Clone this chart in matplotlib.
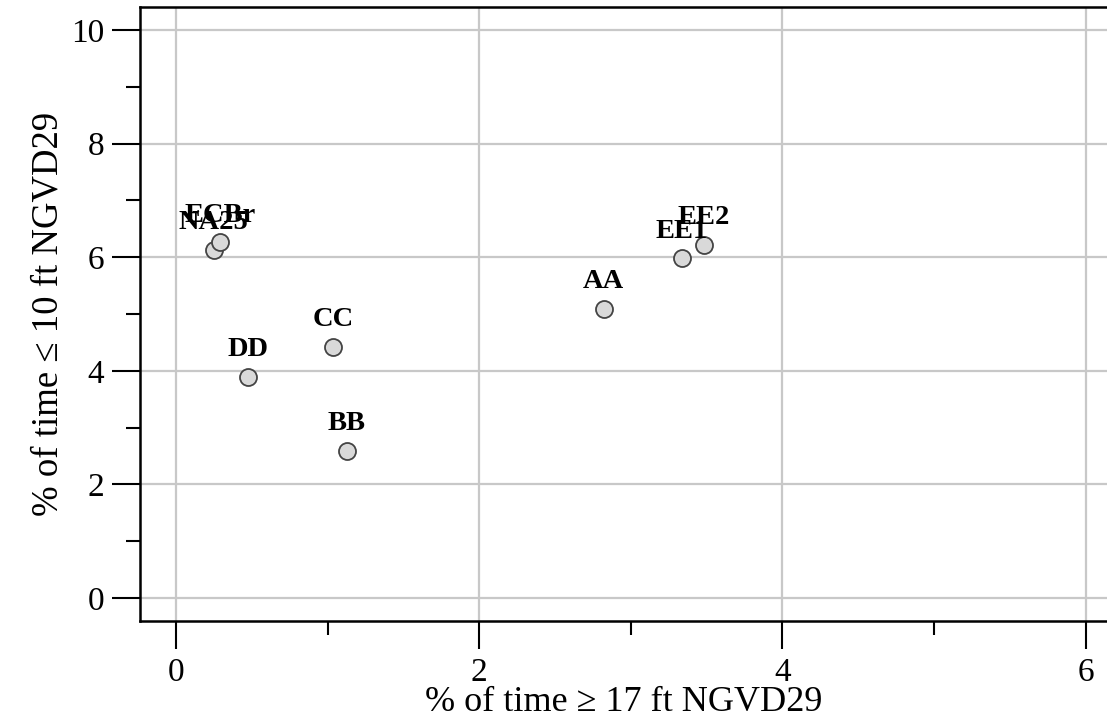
import matplotlib

matplotlib.use("Agg")
import matplotlib.pyplot as plt
from matplotlib.ticker import MultipleLocator

# site names and values
sites = ["NA25", "ECBr", "DD", "CC", "BB", "AA", "EE1", "EE2"]
pct_above_17 = [0.25, 0.29, 0.475, 1.036, 1.128, 2.82, 3.336, 3.48]
pct_below_10 = [6.13, 6.26, 3.89, 4.42, 2.59, 5.09, 5.98, 6.21]

plt.rcParams["font.family"] = ["Liberation Serif", "DejaVu Serif"]

fig = plt.figure(figsize=(11.07, 7.2), dpi=100)
ax = fig.add_axes([140 / 1107, 99 / 720, 1 - 140 / 1107, 614 / 720])

ax.scatter(pct_above_17, pct_below_10, s=150, facecolor="#d9d9d9",
           edgecolor="#444444", linewidth=1.3, zorder=3)
for name, x, y in zip(sites, pct_above_17, pct_below_10):
    ax.annotate(name, (x, y), xytext=(0, 15), textcoords="offset points",
                ha="center", va="baseline", fontsize=20.5, fontweight="bold", zorder=4)

ax.set_xlim(-0.237, 6.14)
ax.set_ylim(-0.405, 10.405)
ax.xaxis.set_major_locator(MultipleLocator(2))
ax.xaxis.set_minor_locator(MultipleLocator(1))
ax.yaxis.set_major_locator(MultipleLocator(2))
ax.yaxis.set_minor_locator(MultipleLocator(1))

ax.grid(True, which="major", color="#c8c8c8", linewidth=1.6, zorder=0)
ax.set_axisbelow(True)
ax.spines["right"].set_visible(False)
for side in ("left", "bottom", "top"):
    ax.spines[side].set_linewidth(1.8)

ax.tick_params(which="major", length=20, width=1.5, labelsize=24, pad=6)
ax.tick_params(which="minor", length=10, width=1.5)

ax.set_xlabel("% of time ≥ 17 ft NGVD29", fontsize=26, labelpad=-1)
ax.set_ylabel("% of time ≤ 10 ft NGVD29", fontsize=26.5, labelpad=4)

fig.savefig("out.png", dpi=100)
